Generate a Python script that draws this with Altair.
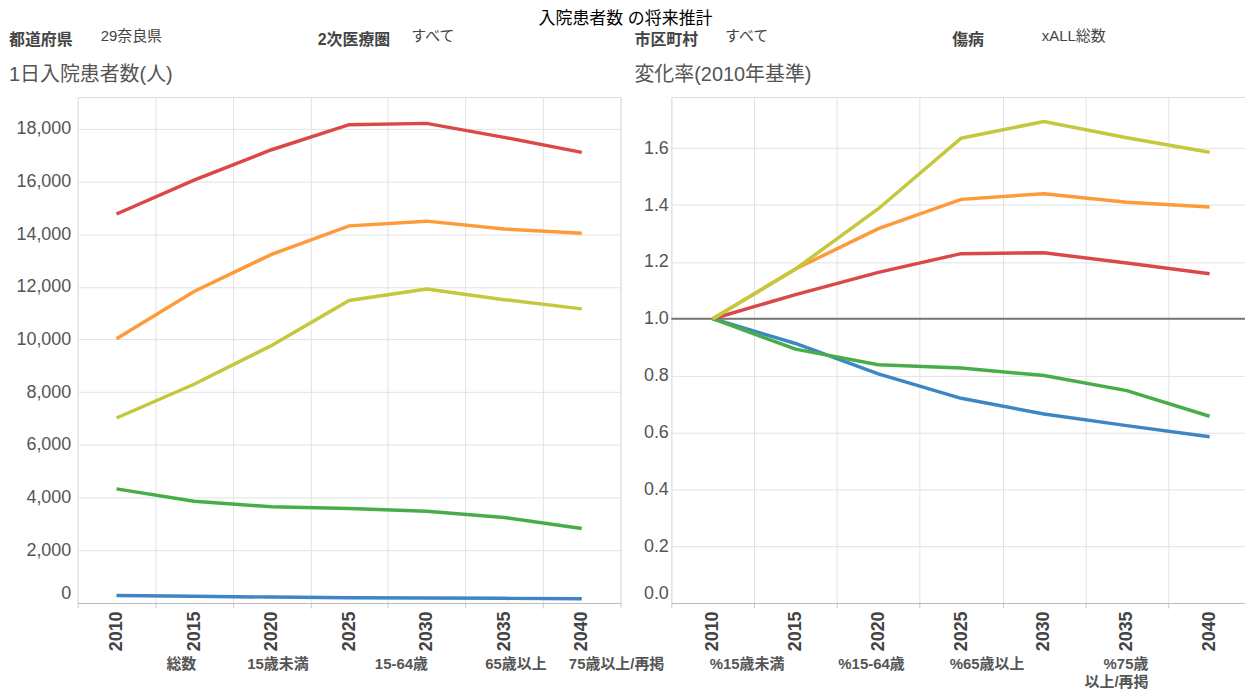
import altair as alt
import pandas as pd

FONT = "Liberation Sans, Noto Sans CJK JP"

years = [2010, 2015, 2020, 2025, 2030, 2035, 2040]
series = ["総数", "15歳未満", "15-64歳", "65歳以上", "75歳以上/再掲"]
colors = ["#db4848", "#3e86c3", "#48ad48", "#ff9a3a", "#c3c83c"]

# 1日入院患者数(人)
total = [14760, 16050, 17200, 18150, 18200, 17670, 17100]
under15 = [280, 255, 225, 202, 186, 175, 164]
age15_64 = [4330, 3860, 3650, 3585, 3480, 3245, 2830]
over65 = [10030, 11820, 13230, 14310, 14490, 14190, 14030]
over75 = [7020, 8300, 9770, 11480, 11910, 11510, 11160]

# 変化率(2010年基準)
r_total = [1.0, 1.085, 1.163, 1.229, 1.232, 1.196, 1.158]
r_under15 = [1.0, 0.913, 0.806, 0.720, 0.665, 0.624, 0.585]
r_15_64 = [1.0, 0.893, 0.838, 0.827, 0.800, 0.747, 0.657]
r_over65 = [1.0, 1.175, 1.317, 1.420, 1.440, 1.410, 1.393]
r_over75 = [1.0, 1.175, 1.387, 1.635, 1.694, 1.637, 1.586]
baseline = [1.0]

left_ticks = [0, 2000, 4000, 6000, 8000, 10000, 12000, 14000, 16000, 18000]
right_ticks = [0.0, 0.2, 0.4, 0.6, 0.8, 1.0, 1.2, 1.4, 1.6]

title_text = "入院患者数 の将来推計"
filter_keys = ["都道府県", "2次医療圏", "市区町村", "傷病"]
filter_vals = ["29奈良県", "すべて", "すべて", "xALL総数"]
panel_titles = ["1日入院患者数(人)", "変化率(2010年基準)"]
legend_labels = ["総数", "15歳未満", "15-64歳", "65歳以上", "75歳以上/再掲",
                 "%15歳未満", "%15-64歳", "%65歳以上", "%75歳\n以上/再掲"]


def long_df(arrays):
    rows = []
    for name, arr in zip(series, arrays):
        for y, v in zip(years, arr):
            rows.append({"year": y, "series": name, "value": v})
    return pd.DataFrame(rows)


left_df = long_df([total, under15, age15_64, over65, over75])
right_df = long_df([r_total, r_under15, r_15_64, r_over65, r_over75])


def x_enc():
    return alt.X(
        "year:O",
        bandPosition=0.5,
        scale=alt.Scale(type="band", paddingInner=0, paddingOuter=0),
        axis=alt.Axis(
            title=None, tickBand="extent", labelAngle=270, labelFont=FONT,
            labelFontSize=18, labelFontWeight="bold", labelColor="#444",
            tickColor="#c8c8c8", tickSize=5, domainColor="#bbbbbb",
            gridColor="#e2e2e2", grid=True, labelPadding=3,
            minExtent=44, maxExtent=44,
        ),
    )


color_enc = alt.Color("series:N", scale=alt.Scale(domain=series, range=colors), legend=None)

left_y = alt.Y(
    "value:Q",
    scale=alt.Scale(domain=[0, 19200], nice=False, zero=True),
    axis=alt.Axis(
        title=None, values=left_ticks, format=",d", labelFont=FONT,
        labelFontSize=18, labelColor="#555", ticks=False, domain=False,
        gridColor="#e2e2e2", labelPadding=7, labelFlush=True,
        minExtent=69, maxExtent=69,
    ),
)

right_y = alt.Y(
    "value:Q",
    scale=alt.Scale(domain=[0, 1.78], nice=False, zero=True),
    axis=alt.Axis(
        title=None, values=right_ticks, format=".1f", labelFont=FONT,
        labelFontSize=18, labelColor="#555", ticks=False, domain=False,
        gridColor="#e2e2e2", labelPadding=3, labelFlush=True,
        minExtent=40, maxExtent=40,
    ),
)

left = alt.Chart(left_df).mark_line(strokeWidth=3.5).encode(
    x=x_enc(), y=left_y, color=color_enc
).properties(width=545, height=508, view=alt.ViewBackground(stroke="#dddddd"))

rule = alt.Chart(pd.DataFrame({"value": baseline})).mark_rule(
    color="#777777", strokeWidth=2
).encode(y=right_y)

right_lines = alt.Chart(right_df).mark_line(strokeWidth=3.5).encode(
    x=x_enc(), y=right_y, color=color_enc
)

right = alt.layer(rule, right_lines).properties(
    width=582, height=508, view=alt.ViewBackground(stroke="#dddddd")
)


def text_layer(txt, x, y, size, weight="normal", color="#444", align="left",
               baseline="middle", line_height=16):
    return alt.Chart(pd.DataFrame({"t": [txt]})).mark_text(
        font=FONT, fontSize=size, fontWeight=weight, color=color,
        align=align, baseline=baseline, lineBreak="\n", lineHeight=line_height,
    ).encode(text="t:N", x=alt.value(x), y=alt.value(y))


# header: x positions relative to the left plot's left edge
header_layers = [text_layer(title_text, 550, 0, 17, color="#000000",
                            align="center", baseline="top")]
key_x = [-69, 241, 559, 878]
val_x = [23, 335, 650, 968]
for k, v, kx, vx in zip(filter_keys, filter_vals, key_x, val_x):
    header_layers.append(text_layer(k, kx, 29, 16, weight="bold", color="#444"))
    header_layers.append(text_layer(v, vx, 25, 15, color="#444"))
header_layers.append(text_layer(panel_titles[0], -69, 64, 20, color="#555"))
header_layers.append(text_layer(panel_titles[1], 559, 64, 20, color="#555"))

header = alt.layer(*header_layers).properties(
    width=1176, height=84, view=alt.ViewBackground(stroke="transparent")
)

legend_x = [104, 201, 325, 440, 541, 672, 797, 913]
legend_layers = []
for lab, lx in zip(legend_labels[:-1], legend_x):
    legend_layers.append(text_layer(lab, lx, 4, 15, weight="bold", color="#555",
                                    align="center", baseline="top"))
legend_layers.append(text_layer(legend_labels[-1], 1075, 4, 15, weight="bold",
                                color="#555", align="right", baseline="top",
                                line_height=18))

legend = alt.layer(*legend_layers).properties(
    width=1176, height=30, view=alt.ViewBackground(stroke="transparent")
)

middle = alt.hconcat(left, right, spacing=9)

chart = alt.vconcat(header, middle, legend, spacing=0).properties(
    padding={"left": 0, "top": 0, "right": -8, "bottom": 0}
).configure(font=FONT)

chart.save("out.html", embed_options={"renderer": "svg", "actions": False})
